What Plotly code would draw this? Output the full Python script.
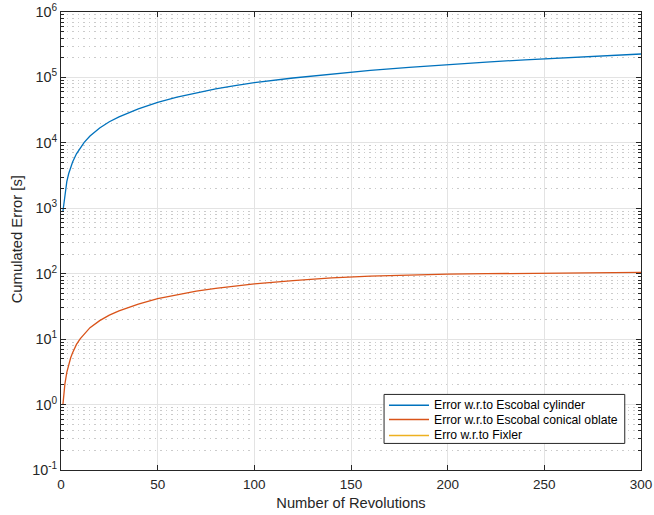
import plotly.graph_objects as go

# Revolution counts at which the cumulated error was sampled
revs = [1, 2, 3, 4, 5, 6, 8, 10, 12, 15, 20, 25, 30, 40, 50, 60, 70, 80, 90,
        100, 120, 140, 160, 180, 200, 220, 240, 260, 280, 300]

# Cumulated error [s] w.r.t. Escobal cylinder
err_cylinder = [900, 1720, 2560, 3400, 4250, 5100, 6800, 8500, 10200, 12700,
                16900, 21000, 25000, 33000, 41500, 50000, 58500, 67000, 75000,
                83000, 98000, 113000, 128000, 142000, 157000, 171000, 186000,
                200000, 214000, 228000]

# Cumulated error [s] w.r.t. Escobal conical oblate
err_conical = [1.0, 2.05, 3.1, 4.2, 5.2, 6.2, 8.3, 10.2, 12.1, 15.0, 19.2,
               23.3, 27.0, 34.4, 41.5, 47.5, 54.0, 59.5, 65.0, 70.0, 78.5,
               86.5, 92.0, 96.0, 98.9, 100.0, 100.8, 101.8, 103.0, 104.5]

# Cumulated error [s] w.r.t. Fixler (identically zero, so nothing shows on a log axis)
err_fixler = [0.0] * len(revs)

series_names = ["Error w.r.to Escobal cylinder",
                "Error w.r.to Escobal conical oblate",
                "Erro w.r.to Fixler"]
series_colors = ["#0072BD", "#D95319", "#EDB120"]

x_ticks = [0, 50, 100, 150, 200, 250, 300]
y_exponents = [-1, 0, 1, 2, 3, 4, 5, 6]

y_major = [10.0 ** e for e in y_exponents]
y_labels = ["10<sup>%d</sup>" % e for e in y_exponents]
y_minor = [m * 10.0 ** e for e in y_exponents[:-1] for m in range(2, 10)]

FONT = "Liberation Sans, Arial, Helvetica, sans-serif"
INK = "#262626"

fig = go.Figure()
for name, color, values in zip(series_names, series_colors,
                               [err_cylinder, err_conical, err_fixler]):
    fig.add_trace(go.Scatter(x=revs, y=values, mode="lines", name=name,
                             showlegend=False,
                             line=dict(color=color, width=1.3)))

# Boxed legend in the lower right corner of the axes (paper coordinates)
box_x0, box_x1 = 0.557, 0.972
box_y0, box_y1 = 0.058, 0.165
row_y = [0.1415, 0.110, 0.0755]
line_x0, line_x1 = 0.5655, 0.6345
text_x = 0.6405

fig.add_shape(type="rect", xref="paper", yref="paper",
              x0=box_x0, x1=box_x1, y0=box_y0, y1=box_y1,
              line=dict(color=INK, width=1), fillcolor="white", layer="above")
for name, color, ry in zip(series_names, series_colors, row_y):
    fig.add_shape(type="line", xref="paper", yref="paper",
                  x0=line_x0, x1=line_x1, y0=ry, y1=ry,
                  line=dict(color=color, width=1.5), layer="above")
    fig.add_annotation(xref="paper", yref="paper", x=text_x, y=ry,
                       xanchor="left", yanchor="middle", text=name,
                       showarrow=False, font=dict(size=12.2, color="#000000"))

# Vertical y-axis title
fig.add_annotation(xref="paper", yref="paper", x=-0.0764, y=0.503,
                   xanchor="center", yanchor="middle", textangle=-90,
                   text="Cumulated Error [s]", showarrow=False,
                   font=dict(size=14.8, color=INK))

fig.update_layout(
    width=654, height=515,
    margin=dict(l=61, r=13, t=12, b=45),
    paper_bgcolor="white", plot_bgcolor="white",
    font=dict(family=FONT, size=13.5, color=INK),
    showlegend=False,
)

fig.update_xaxes(
    range=[0, 300], tickvals=x_ticks, ticktext=[str(v) for v in x_ticks],
    title=dict(text="Number of Revolutions", standoff=6, font=dict(size=14.7)),
    showline=True, linecolor=INK, linewidth=1, mirror="allticks",
    ticks="inside", ticklen=5, tickcolor=INK, automargin=False,
    ticklabelstandoff=2,
    showgrid=True, gridcolor="#e3e3e3", gridwidth=1, zeroline=False,
)

fig.update_yaxes(
    type="log", range=[-1, 6],
    tickmode="array", tickvals=y_major, ticktext=y_labels,
    showline=True, linecolor=INK, linewidth=1, mirror="allticks",
    ticks="inside", ticklen=5, tickcolor=INK, automargin=False,
    tickfont=dict(size=14.4),
    showgrid=True, gridcolor="#e3e3e3", gridwidth=1, zeroline=False,
    minor=dict(tickmode="array", tickvals=y_minor, ticks="inside", ticklen=3,
               tickcolor=INK, showgrid=True, gridcolor="#cbcbcb",
               griddash="1.5px,4px", gridwidth=1),
)

fig.write_html("out.html")
